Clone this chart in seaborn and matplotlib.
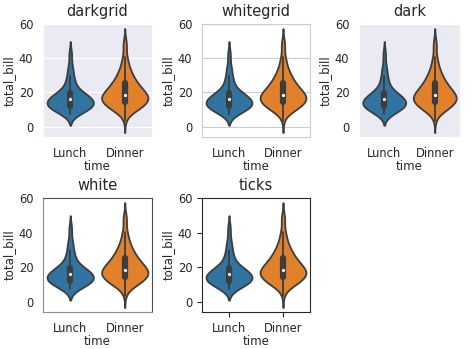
import matplotlib
matplotlib.use("Agg")
import matplotlib.pyplot as plt
import seaborn as sns
import pandas as pd

lunch_bills = [27.20, 22.76, 17.29, 19.44, 16.66, 10.07, 32.68, 15.98, 34.83, 13.03, 18.28, 24.71, 21.16,
               10.65, 12.43, 24.08, 11.69, 13.42, 14.26, 15.95, 12.48, 29.80, 8.52, 14.52, 11.38, 22.82,
               19.08, 20.27, 11.17, 12.26, 18.26, 8.51, 10.33, 14.15, 16.00, 13.16, 17.47, 34.30, 41.19,
               27.05, 16.43, 8.35, 18.64, 11.87, 9.78, 7.51,
               19.81, 28.44, 15.48, 16.58, 7.56, 10.34, 43.11, 13.00, 13.51, 18.71, 12.74, 13.00, 16.40,
               20.53, 16.47,
               12.16, 13.42, 8.58, 15.98, 13.42, 16.27, 10.09]

dinner_bills = [16.99, 10.34, 21.01, 23.68, 24.59, 25.29, 8.77, 26.88, 15.04, 14.78, 10.27, 35.26, 15.42,
                18.43, 14.83, 21.58, 10.33, 16.29, 16.97,
                20.65, 17.92, 20.29, 15.77, 39.42, 19.82, 17.81, 13.37, 12.69, 21.70, 19.65, 9.55, 18.35,
                15.06, 20.69, 17.78, 24.06, 16.31, 16.93, 18.69, 31.27, 16.04,
                17.46, 13.94, 9.68, 30.40, 18.29, 22.23, 32.40, 28.55, 18.04, 12.54, 10.29, 34.81, 9.94,
                25.56, 19.49,
                38.01, 26.41, 11.24, 48.27, 20.29, 13.81, 11.02, 18.29, 17.59, 20.08, 16.45, 3.07, 20.23,
                15.01, 12.02, 17.07, 26.86, 25.28, 14.73, 10.51, 17.92,
                28.97, 22.49, 5.75, 16.32, 22.75, 40.17, 27.28, 12.03, 21.01, 12.46, 11.35, 15.38,
                44.30, 22.42, 20.92, 15.36, 20.49, 25.21, 18.24, 14.31, 14.00, 7.25,
                38.07, 23.95, 25.71, 17.31, 29.93,
                14.07, 13.13, 17.26, 24.55, 19.77, 29.85, 48.17, 25.00, 13.39, 16.49, 21.50, 12.66, 16.21,
                13.81, 17.51, 24.52, 20.76, 31.71,
                10.59, 10.63, 50.81, 15.81,
                7.25, 31.85, 16.82, 32.90, 17.89, 14.48, 9.60, 34.63, 34.65, 23.33, 45.35, 23.17, 40.55,
                20.69, 20.90, 30.46, 18.15, 23.10, 15.69,
                26.59, 38.73, 24.27, 12.76, 30.06, 25.89, 48.33, 13.27, 28.17, 12.90, 28.15, 11.59, 7.74,
                30.14,
                20.45, 13.28, 22.12, 24.01, 15.69, 11.61, 10.77, 15.53, 10.07, 12.60, 32.83, 35.83, 29.03,
                27.18, 22.67, 17.82,
                18.78]

times = ["Lunch", "Dinner"]
styles = ["darkgrid", "whitegrid", "dark", "white", "ticks"]
yticks = [0, 20, 40, 60]

df = pd.DataFrame({
    "time": ["Lunch"] * len(lunch_bills) + ["Dinner"] * len(dinner_bills),
    "total_bill": lunch_bills + dinner_bills,
})
df["time"] = pd.Categorical(df["time"], categories=times)

palette = {"Lunch": "#1f77b4", "Dinner": "#ff7f0e"}

fig = plt.figure(figsize=(4.71, 3.49), dpi=100)
W, H = 471, 349
boxes = [(43, 24, 152, 137), (202, 24, 310, 137), (359, 24, 460, 137),
         (43, 198, 152, 312), (202, 198, 310, 312)]

for style, (l, t, r, b) in zip(styles, boxes):
    with sns.axes_style(style):
        ax = fig.add_axes([l / W, 1 - b / H, (r - l) / W, (b - t) / H])
        sns.violinplot(data=df, x="time", y="total_bill", hue="time", palette=palette,
                       legend=False, ax=ax, linecolor="#3d3d3d", linewidth=1.3,
                       inner="box", width=0.85,
                       inner_kws={"marker": "o", "markersize": 1.4,
                                  "box_width": 4.5, "whis_width": 1.3})
        ax.set_title(style, fontsize=10.5, color=".15")
        ax.set_yticks(yticks)
        ax.set_ylim(-6, 60)
        ax.tick_params(labelsize=8.3, colors=".15")
        ax.set_xlabel("time", fontsize=8.5, color=".15", labelpad=0)
        ax.set_ylabel("total_bill", fontsize=8.5, color=".15", labelpad=2)
        if style == "white":
            for s in ["left", "bottom"]:
                ax.spines[s].set_color("0.55")
            for s in ["top", "right"]:
                ax.spines[s].set_color("0.3")

fig.savefig("out.png", dpi=100)
